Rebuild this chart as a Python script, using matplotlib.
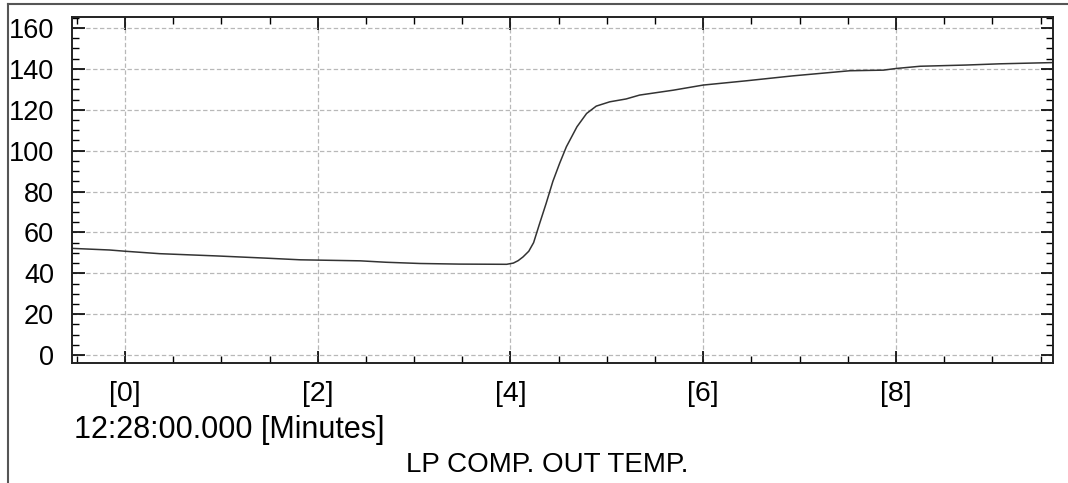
import matplotlib.pyplot as plt
from matplotlib.lines import Line2D
from matplotlib.ticker import MultipleLocator

# ---------------- data ----------------
minutes = [-0.55, -0.16, 0.0, 0.36, 0.95, 1.47, 1.82, 2.44, 2.71, 3.06, 3.47, 3.96,
           4.03, 4.08, 4.13, 4.19, 4.24, 4.30, 4.37, 4.44, 4.51, 4.58, 4.69, 4.79,
           4.89, 5.03, 5.20, 5.34, 5.69, 6.00, 6.45, 6.93, 7.52, 7.87, 8.00, 8.25,
           8.73, 9.08, 9.63]
temp = [52.2, 51.4, 50.8, 49.6, 48.5, 47.4, 46.6, 46.1, 45.4, 44.8, 44.5, 44.4,
        45.0, 46.2, 48.0, 50.8, 55.0, 64.0, 74.2, 85.0, 93.8, 101.9, 111.7, 118.2,
        121.8, 123.9, 125.3, 127.2, 129.6, 132.1, 134.2, 136.6, 139.1, 139.4, 140.2,
        141.3, 141.9, 142.5, 143.1]

xticks = [0, 2, 4, 6, 8]
xtick_labels = ['[0]', '[2]', '[4]', '[6]', '[8]']
yticks = [0, 20, 40, 60, 80, 100, 120, 140, 160]

plt.rcParams['font.family'] = ['Liberation Sans', 'DejaVu Sans']

fig = plt.figure(figsize=(10.68, 4.83), dpi=100)
ax = fig.add_axes([0.0674, 0.2484, 0.9186, 0.7164])

ax.plot(minutes, temp, color='#333333', linewidth=1.1)

ax.set_xlim(-0.55, 9.63)
ax.set_ylim(-3.9, 165.4)

ax.set_xticks(xticks)
ax.set_xticklabels(xtick_labels)
ax.set_yticks(yticks)
ax.xaxis.set_minor_locator(MultipleLocator(0.5))
ax.yaxis.set_minor_locator(MultipleLocator(5))

ax.tick_params(which='both', direction='in', top=True, right=True, color='black')
ax.tick_params(which='major', length=9, width=1.2)
ax.tick_params(which='minor', length=5, width=1.0)
ax.tick_params(axis='y', labelsize=19.5, pad=13)
ax.tick_params(axis='x', labelsize=20.5, pad=13)
ax.tick_params(axis='y', which='both', labelright=False)

ax.grid(True, which='major', color='#b8b8b8', linestyle=(0, (3.5, 2)), linewidth=0.9)

for s in ax.spines.values():
    s.set_linewidth(1.4)
    s.set_color('#222222')

# time stamp and tag name
fig.text(74 / 1068, 1 - 430 / 483, '12:28:00.000 [Minutes]', fontsize=22,
         ha='left', va='center')
fig.text(547 / 1068, 1 - 465 / 483, 'LP COMP. OUT TEMP.', fontsize=20,
         ha='center', va='center')

# window frame (top and left edge)
fig.add_artist(Line2D([8 / 1068, 1], [1 - 4 / 483, 1 - 4 / 483],
                      transform=fig.transFigure, color='#555555', linewidth=1.5))
fig.add_artist(Line2D([8 / 1068, 8 / 1068], [0, 1 - 4 / 483],
                      transform=fig.transFigure, color='#555555', linewidth=1.5))

fig.savefig('out.png', dpi=100)
